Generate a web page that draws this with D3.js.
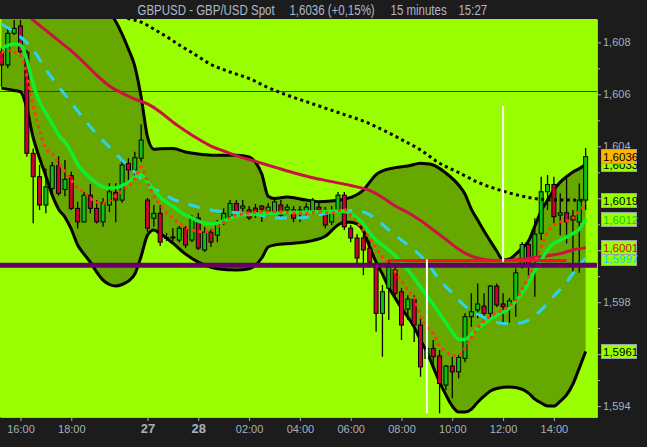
<!DOCTYPE html>
<html>
<head>
<meta charset="utf-8">
<script src="https://cdn.jsdelivr.net/npm/d3@7"></script>
<style>
  body { margin: 0; background: #1c1c1c; }
  svg { display: block; }
</style>
</head>
<body>
<svg id="chart" width="647" height="447"></svg>
<script>
// candles, 15 minute bars, index 0..92
const opens = [1.60764,1.60713,1.60835,1.60863,1.60762,1.60373,1.60283,1.60174,1.60238,1.60325,
  1.60234,1.60287,1.60161,1.60109,1.60212,1.60161,1.60109,1.60174,1.60223,1.60193,
  1.60334,1.60309,1.60354,1.60193,1.60123,1.60142,1.60047,1.60051,1.60039,1.60085,
  1.60039,1.60124,1.60001,1.60070,1.60058,1.60109,1.60129,1.60180,1.60162,1.60155,
  1.60162,1.60170,1.60151,1.60148,1.60174,1.60155,1.60155,1.60155,1.60147,1.60148,
  1.60166,1.60155,1.60109,1.60155,1.60212,1.60085,1.60047,1.60047,1.60008,1.59936,
  1.59757,1.59854,1.59924,1.59840,1.59773,1.59811,1.59712,1.59584,1.59622,1.59593,
  1.59481,1.59554,1.59532,1.59584,1.59744,1.59770,1.59785,1.59757,1.59862,1.59793,
  1.59782,1.59808,1.59949,1.60022,1.59962,1.60065,1.60225,1.60253,1.60135,1.60144,
  1.60131,1.60109,1.60193];
const highs = [1.60778,1.60855,1.60886,1.60886,1.60771,1.60392,1.60328,1.60315,1.60340,1.60362,
  1.60347,1.60302,1.60186,1.60224,1.60255,1.60193,1.60201,1.60258,1.60258,1.60354,
  1.60354,1.60379,1.60484,1.60201,1.60174,1.60174,1.60066,1.60085,1.60093,1.60093,
  1.60135,1.60143,1.60089,1.60081,1.60116,1.60162,1.60193,1.60193,1.60193,1.60170,
  1.60178,1.60174,1.60182,1.60201,1.60193,1.60178,1.60170,1.60170,1.60182,1.60201,
  1.60182,1.60166,1.60170,1.60224,1.60224,1.60097,1.60062,1.60062,1.60039,1.59954,
  1.59866,1.59962,1.59936,1.59854,1.59827,1.59827,1.59744,1.59654,1.59654,1.59616,
  1.59558,1.59590,1.59596,1.59757,1.59834,1.59872,1.59834,1.59866,1.59872,1.59834,
  1.59816,1.59930,1.60032,1.60035,1.60123,1.60283,1.60289,1.60283,1.60219,1.60277,
  1.60155,1.60257,1.60393];
const lows = [1.60629,1.60701,1.60828,1.60758,1.60360,1.60104,1.60155,1.60142,1.60212,1.60210,
  1.60208,1.60155,1.60084,1.60108,1.60142,1.60103,1.60090,1.60147,1.60108,1.60183,
  1.60257,1.60283,1.60340,1.60070,1.60090,1.60016,1.60035,1.60035,1.60031,1.60008,
  1.60031,1.60001,1.59993,1.60012,1.60031,1.60097,1.60116,1.60139,1.60143,1.60116,
  1.60124,1.60109,1.60135,1.60135,1.60124,1.60143,1.60108,1.60109,1.60135,1.60139,
  1.60139,1.60085,1.60097,1.60143,1.60078,1.60031,1.59943,1.59904,1.59947,1.59686,
  1.59590,1.59731,1.59808,1.59654,1.59731,1.59647,1.59513,1.59455,1.59551,1.59372,
  1.59462,1.59430,1.59507,1.59569,1.59705,1.59738,1.59738,1.59739,1.59781,1.59718,
  1.59721,1.59744,1.59930,1.59898,1.59821,1.60039,1.60155,1.60103,1.60058,1.60026,
  1.59913,1.59913,1.60155];
const closes = [1.60713,1.60835,1.60854,1.60764,1.60373,1.60283,1.60174,1.60244,1.60325,1.60219,
  1.60273,1.60161,1.60109,1.60212,1.60161,1.60109,1.60183,1.60225,1.60193,1.60328,
  1.60309,1.60356,1.60424,1.60085,1.60142,1.60031,1.60049,1.60047,1.60085,1.60020,
  1.60124,1.60008,1.60070,1.60031,1.60108,1.60142,1.60180,1.60148,1.60170,1.60124,
  1.60135,1.60158,1.60166,1.60186,1.60135,1.60166,1.60123,1.60151,1.60166,1.60193,
  1.60155,1.60097,1.60155,1.60212,1.60090,1.60047,1.59970,1.60001,1.59954,1.59757,
  1.59840,1.59935,1.59834,1.59712,1.59812,1.59712,1.59551,1.59622,1.59590,1.59487,
  1.59554,1.59532,1.59587,1.59744,1.59763,1.59793,1.59757,1.59862,1.59789,1.59782,
  1.59805,1.59913,1.60022,1.59949,1.60062,1.60225,1.60253,1.60129,1.60144,1.60109,
  1.60116,1.60193,1.60360];

// indicators: [bar index, price]
const upperBand = [[0,1.6113],[5,1.6109],[10,1.6108],[15,1.6099],[17,1.6092],[18,1.60880],[19,1.60832],
  [20,1.60774],[21,1.60709],[22,1.60590],[23,1.60436],[24,1.60389],[25,1.60391],[27,1.60392],[29,1.60378],
  [31,1.60370],[33,1.60366],[37,1.60366],[39,1.60359],[40,1.60339],[41,1.60293],[42,1.60208],[43,1.60199],
  [45,1.60205],[48,1.60193],[50,1.60187],[53,1.60192],[55,1.60203],[57,1.60232],[58,1.60262],[59,1.60291],
  [60,1.60305],[62,1.60318],[64,1.60324],[66,1.60335],[67,1.60333],[68,1.60328],[70,1.60297],[72,1.60251],
  [73,1.60216],[74,1.60158],[75,1.60116],[76,1.60074],[77,1.60035],[78,1.59997],[79,1.59962],[80,1.59966],
  [81,1.59985],[82,1.60008],[83,1.60035],[84,1.60093],[85,1.60151],[86,1.60193],[87,1.60232],[88,1.60262],
  [89,1.60283],[90,1.60301],[91,1.60314],[92,1.60330]];
const lowerBand = [[0,1.60624],[2,1.60615],[3,1.60610],[4,1.60547],[5,1.60432],[6,1.60355],[7,1.60285],
  [8,1.60212],[9,1.60158],[10,1.60127],[11,1.60081],[12,1.60020],[13,1.59985],[14,1.59954],[15,1.59916],
  [16,1.59885],[17,1.59868],[18,1.59862],[19,1.59868],[20,1.59881],[21,1.59908],[22,1.59977],[23,1.60058],
  [24,1.60078],[25,1.60064],[27,1.60027],[29,1.59985],[31,1.59954],[34,1.59929],[37,1.59924],[39,1.59929],
  [41,1.59970],[42,1.60012],[43,1.60020],[46,1.60027],[49,1.60037],[51,1.60054],[53,1.60097],[54,1.60108],
  [55,1.60108],[56,1.60101],[57,1.60074],[58,1.60012],[59,1.59954],[60,1.59908],[61,1.59856],[62,1.59816],
  [63,1.59777],[64,1.59743],[65,1.59704],[66,1.59654],[67,1.59608],[68,1.59550],[69,1.59492],[70,1.59443],
  [71,1.59400],[72,1.59377],[73,1.59377],[74,1.59388],[75,1.59415],[76,1.59438],[77,1.59458],[78,1.59468],
  [80,1.59473],[82,1.59465],[83,1.59450],[84,1.59427],[85,1.59412],[86,1.59400],[87,1.59400],[88,1.59419],
  [89,1.59443],[90,1.59485],[91,1.59546],[92,1.59610]];
const midBand = [[0,1.60871],[3,1.60821],[5,1.60771],[7,1.60695],[9,1.60630],[11,1.60568],[13,1.60505],
  [15,1.60447],[17,1.60397],[19,1.60347],[21,1.60301],[23,1.60251],[25,1.60224],[27,1.60197],[29,1.60180],
  [31,1.60166],[34,1.60151],[37,1.60145],[40,1.60139],[43,1.60124],[46,1.60124],[49,1.60130],[52,1.60147],
  [55,1.60153],[57,1.60147],[59,1.60120],[61,1.60078],[63,1.60039],[65,1.60001],[67,1.59954],[69,1.59885],
  [71,1.59835],[73,1.59785],[75,1.59754],[77,1.59731],[79,1.59718],[81,1.59718],[83,1.59731],[85,1.59770],
  [87,1.59823],[89,1.59877],[91,1.59943],[92,1.59970]];
const slowMA = [[18,1.60913],[20,1.60892],[22,1.60878],[24,1.60851],[26,1.60822],[28,1.60790],[30,1.60761],
  [33,1.60715],[36,1.60686],[39,1.60661],[42,1.60626],[45,1.60597],[48,1.60572],[51,1.60547],[54,1.60522],
  [57,1.60497],[60,1.60464],[63,1.60426],[66,1.60386],[69,1.60335],[72,1.60299],[75,1.60262],[78,1.60235],
  [81,1.60214],[84,1.60199],[87,1.60193],[90,1.60193],[92,1.60190]];
const midMA = [[2,1.60951],[4,1.60907],[5,1.60886],[7,1.60846],[9,1.60807],[11,1.60767],[13,1.60722],
  [15,1.60674],[17,1.60632],[19,1.60605],[21,1.60582],[23,1.60563],[25,1.60532],[27,1.60493],[29,1.60459],
  [31,1.60428],[33,1.60401],[35,1.60382],[37,1.60364],[40,1.60342],[43,1.60320],[46,1.60298],[49,1.60279],
  [52,1.60264],[55,1.60249],[58,1.60230],[60,1.60203],[62,1.60170],[64,1.60145],[66,1.60114],[68,1.60078],
  [70,1.60041],[72,1.60004],[74,1.59977],[76,1.59964],[78,1.59960],[80,1.59961],[82,1.59966],[84,1.59972],
  [86,1.59979],[88,1.59987],[90,1.60001],[92,1.60010]];
const fastEMA = [[0,1.60778],[1,1.60788],[2,1.60794],[3,1.60790],[4,1.60732],[5,1.60640],[6,1.60570],
  [7,1.60528],[8,1.60486],[9,1.60443],[10,1.60416],[11,1.60378],[12,1.60330],[13,1.60301],[14,1.60278],
  [15,1.60257],[16,1.60244],[17,1.60239],[18,1.60241],[19,1.60249],[20,1.60262],[21,1.60282],[22,1.60291],
  [23,1.60262],[24,1.60232],[25,1.60205],[26,1.60185],[27,1.60168],[28,1.60151],[29,1.60135],[30,1.60124],
  [31,1.60112],[32,1.60104],[33,1.60101],[34,1.60104],[35,1.60112],[36,1.60122],[37,1.60131],[38,1.60137],
  [40,1.60139],[43,1.60142],[46,1.60146],[49,1.60147],[52,1.60151],[54,1.60149],[55,1.60141],[56,1.60124],
  [57,1.60101],[58,1.60066],[59,1.60039],[60,1.60020],[62,1.59979],[64,1.59925],[66,1.59858],[68,1.59791],
  [70,1.59721],[71,1.59685],[72,1.59658],[73,1.59656],[74,1.59677],[76,1.59718],[78,1.59750],[80,1.59777],
  [82,1.59835],[83,1.59873],[84,1.59922],[85,1.59962],[86,1.60001],[87,1.60026],[88,1.60039],[90,1.60064],
  [91,1.60081],[92,1.60120]];
const fastMA = [[0,1.60759],[1,1.60769],[2,1.60763],[3,1.60747],[4,1.60670],[5,1.60555],[6,1.60463],
  [7,1.60389],[8,1.60370],[9,1.60335],[10,1.60303],[11,1.60270],[12,1.60241],[13,1.60224],[14,1.60201],
  [15,1.60185],[16,1.60181],[17,1.60189],[18,1.60210],[19,1.60228],[20,1.60247],[21,1.60274],[22,1.60320],
  [23,1.60262],[24,1.60208],[25,1.60174],[26,1.60145],[27,1.60122],[28,1.60104],[29,1.60089],[30,1.60079],
  [31,1.60072],[32,1.60071],[33,1.60074],[34,1.60089],[35,1.60108],[36,1.60126],[37,1.60135],[39,1.60143],
  [41,1.60147],[44,1.60148],[46,1.60143],[48,1.60142],[50,1.60148],[52,1.60143],[54,1.60157],[55,1.60135],
  [56,1.60108],[57,1.60078],[58,1.60045],[59,1.60008],[60,1.59974],[61,1.59948],[62,1.59918],[63,1.59881],
  [64,1.59846],[65,1.59817],[66,1.59746],[67,1.59704],[68,1.59679],[69,1.59631],[70,1.59610],[71,1.59594],
  [72,1.59596],[73,1.59623],[74,1.59664],[75,1.59700],[76,1.59727],[77,1.59746],[78,1.59760],[79,1.59770],
  [80,1.59785],[81,1.59808],[82,1.59850],[83,1.59897],[84,1.59954],[85,1.60012],[86,1.60070],[87,1.60097],
  [88,1.60109],[89,1.60112],[90,1.60124],[91,1.60151],[92,1.60181]];

// drawn levels and markers
const refLevel = 1.60613;
const supportLevel = 1.59942;
const redSegment = {from: 61, to: 89, price: 1.59960};
const whiteMarks = [{bar: 67, top: 1.59965, bottom: 1.59373}, {bar: 79, top: 1.60555, bottom: 1.59955}];

// axes (the other labels sit under the price tags)
const yTicks = [1.594,1.595,1.596,1.597,1.598,1.599,1.600,1.601,1.602,1.603,1.604,1.605,1.606,1.607,1.608];
const yLabelled = ["1,594", "1,598", "1,604", "1,606", "1,608"];
const xTickBars = [3, 11, 23, 31, 39, 47, 55, 63, 71, 79, 87];
const xTickLabels = ["16:00","18:00","27","28","02:00","04:00","06:00","08:00","10:00","12:00","14:00"];
const dayLabels = ["27","28"];

// price tags at the right
const tagValues = [1.5961, 1.5997, 1.6001, 1.6012, 1.6019, 1.6033, 1.6036];
const tagColors = ["#000000", "#10d0f0", "#d80040", "#10c810", "#000000", "#000000", "#000000"];
const tagFills  = ["#99ff00", "#99ff00", "#99ff00", "#99ff00", "#99ff00", "#99ff00", "#ffb400"];

// title pieces
const titleParts = ["GBPUSD - GBP/USD Spot", "1,6036 (+0,15%)", "15 minutes", "15:27"];
const titleX = [137.5, 289.5, 390.5, 458.5];

const W = 647, H = 447;
const pL = 0, pT = 19, pR = 597, pB = 417;
const lime = "#99ff00", bandFill = "#66a800", grey = "#a8b0bc";

const svg = d3.select("#chart");
svg.append("rect").attr("width", W).attr("height", H).attr("fill", "#1c1c1c");

const x = d3.scaleLinear().domain([-0.228, 93.79]).range([pL, pR]);
const y = d3.scaleLinear().domain([1.59358, 1.6089]).range([pB, pT]);

const locale = d3.formatLocale({decimal: ",", thousands: ".", grouping: [3], currency: ["", ""]});
const f3 = locale.format(".3f"), f4 = locale.format(".4f");

svg.append("defs").append("clipPath").attr("id", "clip")
  .append("rect").attr("x", pL).attr("y", pT).attr("width", pR - pL).attr("height", pB - pT);

const g = svg.append("g").attr("clip-path", "url(#clip)");
g.append("rect").attr("x", pL).attr("y", pT).attr("width", pR - pL).attr("height", pB - pT).attr("fill", lime);

const line = d3.line().x(d => x(d[0])).y(d => y(d[1])).curve(d3.curveMonotoneX);

// bollinger fill
const fillPath = line(upperBand) + line(lowerBand.slice().reverse()).replace(/^M/, "L") + "Z";
g.append("path").attr("d", fillPath).attr("fill", bandFill);

// thin reference line
g.append("line").attr("x1", pL).attr("x2", pR)
  .attr("y1", Math.round(y(refLevel)) + 0.5).attr("y2", Math.round(y(refLevel)) + 0.5)
  .attr("stroke", "#d00000").attr("stroke-width", 1);

[upperBand, lowerBand].forEach(b => {
  g.append("path").attr("d", line(b)).attr("fill", "none").attr("stroke", "#000").attr("stroke-width", 3);
});

// candles
const bars = d3.range(opens.length);
const cg = g.append("g");
cg.selectAll("line.wick").data(bars).enter().append("line")
  .attr("x1", i => x(i)).attr("x2", i => x(i))
  .attr("y1", i => y(highs[i])).attr("y2", i => y(lows[i]))
  .attr("stroke", "#000").attr("stroke-width", 1.3);
cg.selectAll("rect.body").data(bars).enter().append("rect")
  .attr("x", i => x(i) - 2).attr("width", 4)
  .attr("y", i => y(Math.max(opens[i], closes[i])))
  .attr("height", i => Math.max(1, Math.abs(y(opens[i]) - y(closes[i]))))
  .attr("fill", i => closes[i] >= opens[i] ? "#10c010" : "#cc0033")
  .attr("stroke", "#000").attr("stroke-width", 1);

// moving averages
g.append("path").attr("d", line(midMA)).attr("fill", "none").attr("stroke", "#cc1144").attr("stroke-width", 3);
g.append("path").attr("d", line(slowMA)).attr("fill", "none").attr("stroke", "#000")
  .attr("stroke-width", 3).attr("stroke-dasharray", "3,3.4");
g.append("path").attr("d", line(midBand)).attr("fill", "none").attr("stroke", "#2ad4f0")
  .attr("stroke-width", 3).attr("stroke-dasharray", "12,10");
g.append("path").attr("d", line(fastEMA)).attr("fill", "none").attr("stroke", "#10ee30").attr("stroke-width", 3.5);
g.append("path").attr("d", line(fastMA)).attr("fill", "none").attr("stroke", "#ff3a10")
  .attr("stroke-width", 3).attr("stroke-dasharray", "3,3.6");

// levels
g.append("line").attr("x1", pL).attr("x2", pR)
  .attr("y1", y(supportLevel)).attr("y2", y(supportLevel))
  .attr("stroke", "#660066").attr("stroke-width", 5);
g.append("line").attr("x1", x(redSegment.from)).attr("x2", x(redSegment.to))
  .attr("y1", y(redSegment.price)).attr("y2", y(redSegment.price))
  .attr("stroke", "#ff1020").attr("stroke-width", 3);
g.selectAll("line.mark").data(whiteMarks).enter().append("line")
  .attr("x1", d => x(d.bar)).attr("x2", d => x(d.bar))
  .attr("y1", d => y(d.top)).attr("y2", d => y(d.bottom))
  .attr("stroke", "#fff").attr("stroke-width", 2);

// right axis
const yAxis = d3.axisRight(y).tickValues(yTicks).tickSize(4).tickPadding(2).tickSizeOuter(0)
  .tickFormat(d => yLabelled.includes(f3(d)) ? f3(d) : "");
const ya = svg.append("g").attr("transform", `translate(${pR},0)`).call(yAxis);
ya.select(".domain").attr("stroke", grey);
ya.selectAll(".tick line").attr("stroke", grey).attr("x2", (d, i) => i % 2 === 0 ? 4 : 3);
ya.selectAll(".tick text").attr("fill", grey).style("font", "11px 'Liberation Sans', Arial, sans-serif");

// bottom axis
const xAxis = d3.axisBottom(x).tickValues(xTickBars).tickSize(4).tickPadding(4).tickSizeOuter(0)
  .tickFormat((d, i) => xTickLabels[i]);
const xa = svg.append("g").attr("transform", `translate(0,${pB})`).call(xAxis);
xa.select(".domain").attr("stroke", grey);
xa.selectAll(".tick line").attr("stroke", grey);
xa.selectAll(".tick text").attr("fill", grey)
  .style("font-family", "'Liberation Sans', Arial, sans-serif")
  .style("font-size", (d, i) => dayLabels.includes(xTickLabels[i]) ? "13px" : "11px")
  .style("font-weight", (d, i) => dayLabels.includes(xTickLabels[i]) ? "bold" : "normal")
  .attr("dy", (d, i) => dayLabels.includes(xTickLabels[i]) ? "0.62em" : "0.71em");

// price tags
const tags = svg.append("g");
tagValues.forEach((v, i) => {
  const cy = y(v);
  tags.append("rect").attr("x", 601.5).attr("y", Math.round(cy - 7.5) + 0.5).attr("width", 35).attr("height", 14)
    .attr("fill", tagFills[i]).attr("stroke", "#9aa4b0").attr("stroke-width", 1);
  tags.append("text").attr("x", 603).attr("y", Math.round(cy - 7.5) + 12)
    .attr("fill", tagColors[i]).style("font", "11.5px 'Liberation Sans', Arial, sans-serif")
    .text(f4(v));
});

// title, condensed horizontally like the original narrow face
const squeeze = 0.82;
const tg = svg.append("g").attr("transform", `scale(${squeeze},1)`);
tg.selectAll("text").data(titleParts).enter().append("text")
  .attr("x", (d, i) => titleX[i] / squeeze).attr("y", 15)
  .attr("fill", "#b0b8c8").style("font", "14px 'Liberation Sans', Arial, sans-serif")
  .text(d => d);
</script>
</body>
</html>
